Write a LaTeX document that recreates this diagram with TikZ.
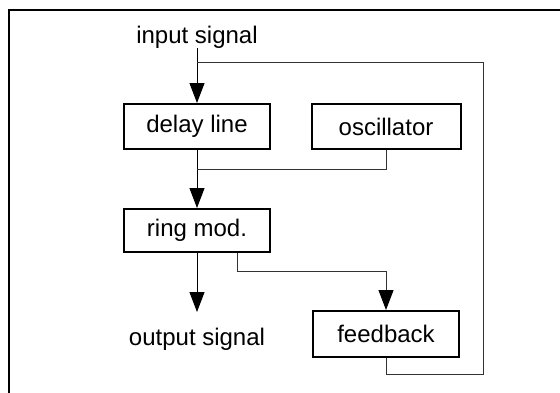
\documentclass[tikz,border=0pt]{standalone}
\usepackage{fontspec}
\setmainfont{Liberation Sans}
\usetikzlibrary{arrows.meta}
\usetikzlibrary{positioning}

\tikzset{
 block/.style={draw, line width=1pt, minimum width=73pt, minimum height=22.5pt, inner sep=0pt, font=\fontsize{12}{14}\selectfont},
 sig/.style={inner sep=0pt, anchor=base, font=\fontsize{12}{14}\selectfont},
 flow/.style={line width=0.5pt, -{Triangle[length=10pt,width=7.5pt,color=black]}},
 wire/.style={line width=0.5pt, black!80},
}

\begin{document}
\begin{tikzpicture}[x=0.5pt,y=0.5pt]
\useasboundingbox (0,0) rectangle (560,392);
\clip (0,0) rectangle (560,392);
% outer frame, cut off at right and bottom
\draw[line width=1.1pt] (9,-20) |- (600,382);

% blocks
\node[block] (delay) at (197,265.5) {delay line};
\node[block, minimum width=74.5pt] (osc) at (386,265.5) {oscillator};
\node[block, minimum height=21.5pt] (ring) at (197,161.5) {ring mod.};
\node[block, minimum height=23pt] (fb) at (386,58) {feedback};

% signals
\node[sig] (in) at (197,349) {input signal};
\node[sig] (out) at (197,47) {output signal};

\coordinate (intop) at (197,344);
\coordinate (outtip) at (197,80);
\coordinate (fbjoin) at (197,330);
\coordinate (oscjoin) at (197,223);
\coordinate (fbright) at (483,330);

% main signal path
\draw[flow] (intop) -- (delay);
\draw[flow] (delay) -- (ring);
\draw[flow] (ring) -- (outtip);

% branches
\draw[wire] (osc.south) |- (oscjoin);
\draw[wire, flow] ([xshift=20pt]ring.south) -- ++(0,-18) -| (fb.north);
\draw[wire] (fb.south) -- ++(0,-16) -| (fbright) -- (fbjoin);
\end{tikzpicture}
\end{document}
